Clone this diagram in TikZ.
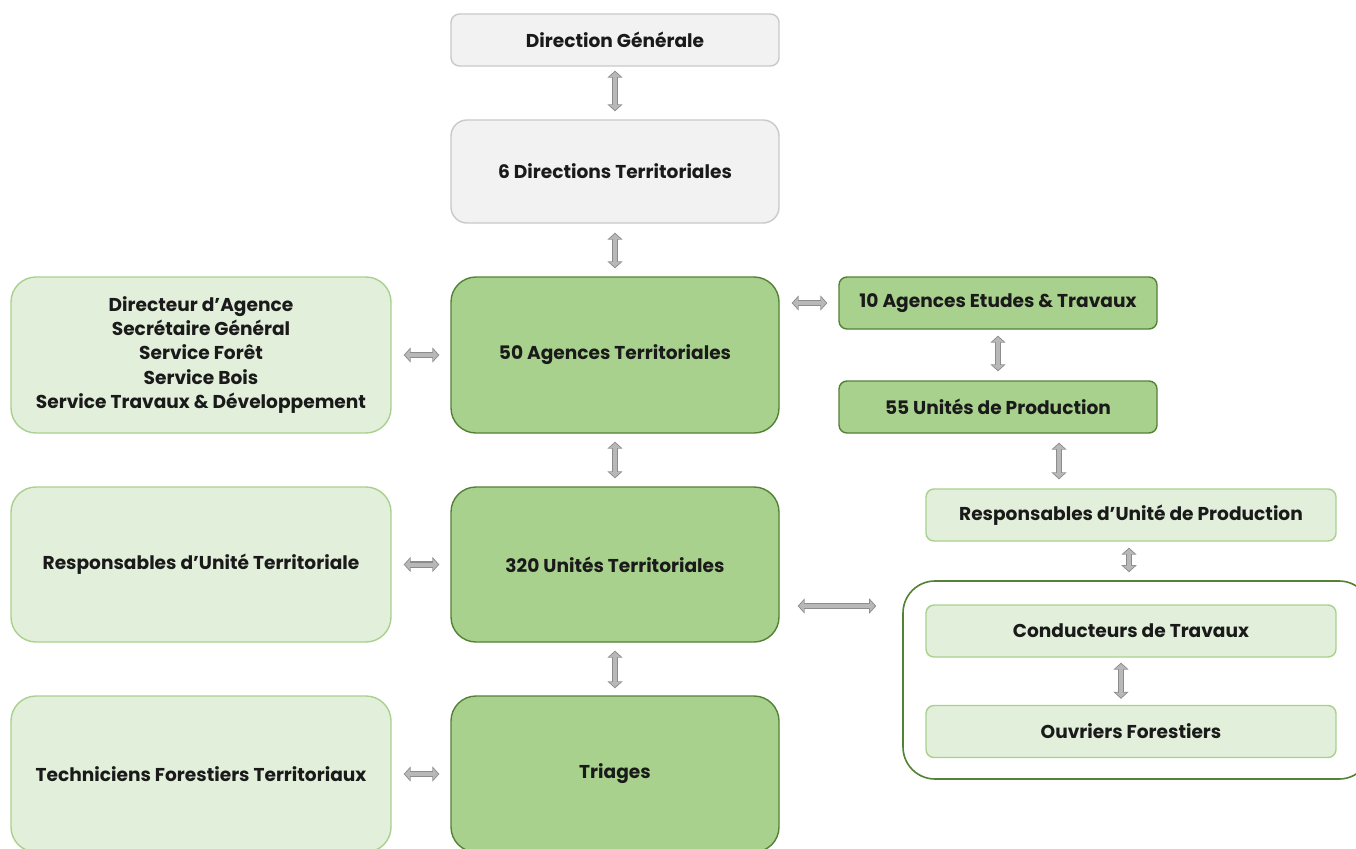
\documentclass[tikz,border=0pt]{standalone}
\usepackage{fontspec}
\setmainfont{Poppins}
\usetikzlibrary{arrows.meta,positioning}
\definecolor{grayfill}{HTML}{F2F2F2}
\definecolor{grayline}{HTML}{C9C9C9}
\definecolor{dkfill}{HTML}{A9D18E}
\definecolor{dkline}{HTML}{548235}
\definecolor{ltfill}{HTML}{E2EFDA}
\definecolor{ltline}{HTML}{A9D18E}
\definecolor{arrfill}{HTML}{B8B8B8}
\definecolor{arrline}{HTML}{8C8C8C}
\definecolor{txt}{HTML}{1A1A1A}
\tikzset{
  box/.style={rectangle, line width=1.4pt, text=txt, font=\fontsize{18.6}{24.3}\selectfont\bfseries, align=center, inner sep=0pt},
  graybox/.style={box, fill=grayfill, draw=grayline},
  dkbox/.style={box, fill=dkfill, draw=dkline},
  ltbox/.style={box, fill=ltfill, draw=ltline},
  connout/.style={line width=6.5pt, draw=arrline, {Triangle[length=7pt,width=15pt]}-{Triangle[length=7pt,width=15pt]}},
  connin/.style={line width=4pt, draw=arrfill, shorten <=1.3pt, shorten >=1.3pt, {Triangle[length=5pt,width=11pt]}-{Triangle[length=5pt,width=11pt]}},
}
\newcommand{\biarrow}[2]{\draw[connout] #1 -- #2; \draw[connin] #1 -- #2;}
\begin{document}
\begin{tikzpicture}[x=1pt,y=-1pt]
\useasboundingbox (0,0) rectangle (1356,848);
\fill[white] (0,0) rectangle (1356,848);
% central column
\node[graybox, rounded corners=8.5pt, minimum width=328pt, minimum height=52pt] (dg) at (615,40) {Direction Générale};
\node[graybox, rounded corners=16pt, minimum width=328pt, minimum height=103pt] (dt) at (615,171.5) {6 Directions Territoriales};
\node[dkbox, rounded corners=25pt, minimum width=328pt, minimum height=156pt] (at) at (615,355) {50 Agences Territoriales};
\node[dkbox, rounded corners=25pt, minimum width=328pt, minimum height=155pt] (ut) at (615,564.5) {320 Unités Territoriales};
\node[dkbox, rounded corners=25pt, minimum width=328pt, minimum height=156pt] (tr) at (615,774) {Triages};
% left column
\node[ltbox, rounded corners=25pt, minimum width=380pt, minimum height=156pt] (dir) at (201,355) {Directeur d’Agence\\Secrétaire Général\\Service Forêt\\Service Bois\\Service Travaux \& Développement};
\node[ltbox, rounded corners=25pt, minimum width=380pt, minimum height=155pt] (rut) at (201,564.5) {Responsables d’Unité Territoriale};
\node[ltbox, rounded corners=25pt, minimum width=380pt, minimum height=156pt] (tft) at (201,774) {Techniciens Forestiers Territoriaux};
% right column
\node[dkbox, rounded corners=8pt, minimum width=318pt, minimum height=52pt] (aet) at (998,303) {10 Agences Etudes \& Travaux};
\node[dkbox, rounded corners=8pt, minimum width=318pt, minimum height=52pt] (up) at (998,407) {55 Unités de Production};
\node[ltbox, rounded corners=8pt, minimum width=410pt, minimum height=52pt] (rup) at (1131,515) {Responsables d'Unité de Production};
\node[rectangle, draw=dkline, line width=1.6pt, fill=white, rounded corners=32pt, minimum width=468pt, minimum height=198pt] (grp) at (1137,680) {};
\node[ltbox, rounded corners=8pt, minimum width=410pt, minimum height=52pt] (ct) at (1131,631) {Conducteurs de Travaux};
\node[ltbox, rounded corners=8pt, minimum width=410pt, minimum height=52pt] (of) at (1131,731.5) {Ouvriers Forestiers};
% helper coordinates for off-centre connectors
\coordinate (xup) at (1059,0);
\coordinate (yut) at (0,606);
% connectors
\biarrow{([yshift=-4pt]dg.south)}{([yshift=8pt]dt.north)}
\biarrow{([yshift=-9pt]dt.south)}{([yshift=8pt]at.north)}
\biarrow{([yshift=-8pt]at.south)}{([yshift=8pt]ut.north)}
\biarrow{([yshift=-8pt]ut.south)}{([yshift=7pt]tr.north)}
\biarrow{([xshift=12pt]dir.east)}{([xshift=-11pt]at.west)}
\biarrow{([xshift=12pt]rut.east)}{([xshift=-11pt]ut.west)}
\biarrow{([xshift=12pt]tft.east)}{([xshift=-11pt]tr.west)}
\biarrow{([xshift=12pt]at.east |- aet.west)}{([xshift=-11pt]aet.west)}
\biarrow{([yshift=-6pt]aet.south)}{([yshift=9pt]up.north)}
\biarrow{([yshift=-9pt]xup |- up.south)}{([yshift=9pt]xup |- rup.north)}
\biarrow{([xshift=-2pt,yshift=-6pt]rup.south)}{([xshift=-2pt,yshift=8pt]rup.south |- grp.north)}
\biarrow{([xshift=18pt]ut.east |- yut)}{([xshift=-26pt]grp.west |- yut)}
\biarrow{([xshift=-10pt,yshift=-5pt]ct.south)}{([xshift=-10pt,yshift=6pt]ct.south |- of.north)}
\end{tikzpicture}
\end{document}
